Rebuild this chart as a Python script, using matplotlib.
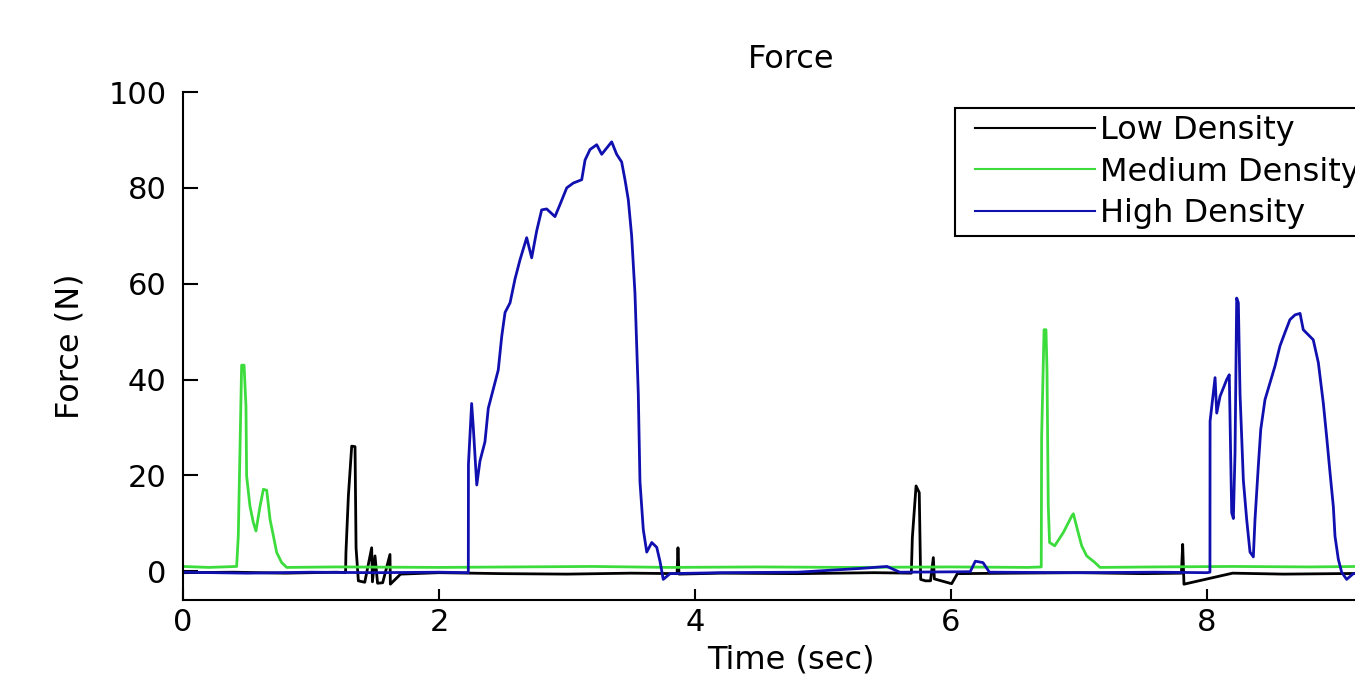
import matplotlib
matplotlib.use("Agg")
import matplotlib.pyplot as plt
from matplotlib.legend_handler import HandlerLine2D
from matplotlib.lines import Line2D

# ---------------- data ----------------
low_t = [0.00, 0.40, 0.80, 1.20, 1.27, 1.273, 1.292, 1.318, 1.344, 1.352, 1.370, 1.42,
         1.474, 1.48, 1.50, 1.52, 1.56, 1.617, 1.62, 1.70, 2.00, 2.50, 3.00, 3.50,
         3.86, 3.867, 3.875, 4.20, 4.80, 5.40, 5.69, 5.698, 5.727, 5.752, 5.763, 5.80,
         5.84, 5.862, 5.87, 6.005, 6.05, 6.50, 7.00, 7.50, 7.80, 7.81, 7.82, 8.20,
         8.60, 9.00, 9.50]
low_f = [-0.3, -0.2, -0.4, -0.2, -0.3, 3.9, 15.7, 26.1, 26.0, 4.9, -2.0, -2.3,
         4.9, -2.2, 3.2, -2.5, -2.4, 3.5, -2.7, -0.6, -0.3, -0.5, -0.6, -0.4,
         -0.5, 4.9, -0.6, -0.4, -0.5, -0.3, -0.4, 7.0, 17.8, 16.4, -1.7, -2.0,
         -2.0, 2.85, -1.6, -2.6, -0.5, -0.4, -0.3, -0.5, -0.4, 5.6, -2.7, -0.4,
         -0.6, -0.5, -0.4]

med_t = [0.00, 0.20, 0.419, 0.432, 0.458, 0.477, 0.492, 0.497, 0.523, 0.549, 0.570,
         0.602, 0.628, 0.654, 0.680, 0.706, 0.732, 0.771, 0.810, 1.20, 2.00, 2.60,
         3.20, 3.80, 4.50, 5.20, 6.00, 6.60, 6.705, 6.708, 6.727, 6.742, 6.750, 6.760,
         6.770, 6.810, 6.878, 6.943, 6.956, 6.987, 7.021, 7.060, 7.125, 7.164, 7.60,
         8.20, 8.80, 9.20, 9.50]
med_f = [1.0, 0.8, 1.0, 7.4, 43.0, 43.0, 34.4, 19.9, 13.6, 10.2, 8.4,
         13.6, 17.1, 16.9, 10.8, 7.4, 3.9, 1.8, 0.8, 0.9, 0.8, 0.9,
         1.0, 0.8, 0.9, 0.8, 0.9, 0.8, 0.9, 28.0, 50.4, 50.4, 42.0, 13.6,
         6.0, 5.3, 8.1, 11.5, 12.0, 8.75, 5.3, 3.2, 1.8, 0.8, 0.9,
         1.0, 0.9, 1.0, 0.9]

high_t = [0.00, 0.50, 1.00, 1.50, 2.00, 2.229, 2.230, 2.255, 2.268, 2.295, 2.320,
          2.359, 2.385, 2.424, 2.463, 2.490, 2.516, 2.555, 2.594, 2.633, 2.685, 2.724,
          2.763, 2.802, 2.841, 2.906, 2.945, 2.998, 3.049, 3.115, 3.141, 3.180, 3.232,
          3.271, 3.310, 3.349, 3.388, 3.427, 3.453, 3.479, 3.505, 3.531, 3.557, 3.570,
          3.596, 3.623, 3.662, 3.701, 3.727, 3.752, 3.805, 4.20, 4.80, 5.30, 5.50,
          5.60, 6.15, 6.19, 6.25, 6.30, 7.00, 7.60, 8.00, 8.023, 8.024, 8.063, 8.076,
          8.102, 8.154, 8.174, 8.185, 8.193, 8.206, 8.219, 8.232, 8.245, 8.258, 8.284,
          8.310, 8.336, 8.362, 8.375, 8.401, 8.420, 8.453, 8.492, 8.531, 8.570, 8.609,
          8.648, 8.688, 8.727, 8.752, 8.830, 8.870, 8.909, 8.935, 8.961, 8.987, 9.000,
          9.026, 9.052, 9.091, 9.143, 9.50]
high_f = [-0.2, -0.4, -0.2, -0.3, -0.2, -0.3, 22.3, 35.0, 30.0, 18.0, 23.0,
          27.0, 34.0, 38.0, 42.0, 49.0, 54.0, 56.0, 61.0, 65.0, 69.6, 65.4,
          71.0, 75.4, 75.6, 74.0, 76.5, 80.0, 81.0, 81.7, 85.8, 88.0, 89.0,
          87.0, 88.3, 89.6, 87.0, 85.4, 81.7, 77.5, 70.0, 58.0, 37.0, 18.7,
          8.7, 4.0, 6.0, 5.0, 2.0, -1.7, -0.5, -0.3, -0.2, 0.6, 1.0,
          -0.2, -0.1, 2.1, 1.8, -0.2, -0.3, -0.2, -0.3, -0.2, 31.3, 40.4, 33.0,
          36.5, 40.0, 41.0, 24.0, 12.2, 11.0, 24.7, 57.0, 56.0, 37.0, 19.0,
          10.8, 4.0, 3.0, 10.8, 22.0, 29.6, 35.8, 39.3, 42.8, 47.0, 49.8,
          52.5, 53.5, 53.8, 50.4, 48.3, 43.5, 35.0, 28.0, 20.6, 13.5, 7.3,
          2.5, -0.2, -1.7, -0.5, -0.3]

labels = ["Low Density", "Medium Density", "High Density"]
x_ticks = [0, 2, 4, 6, 8]
y_ticks = [0, 20, 40, 60, 80, 100]

# ---------------- figure ----------------
plt.rcParams['font.family'] = ['DejaVu Sans']
fig = plt.figure(figsize=(13.55, 6.79), dpi=100)
ax = fig.add_axes([183 / 1355, 1 - 600 / 679, 1216 / 1355, 508 / 679])

ax.plot(low_t, low_f, color='black', lw=2.0, label=labels[0])
ax.plot(med_t, med_f, color='#3ddc3d', lw=2.0, label=labels[1])
ax.plot(high_t, high_f, color='#1010b0', lw=2.0, label=labels[2])

ax.set_xlim(0, 9.5)
ax.set_ylim(-6, 100)
ax.set_xticks(x_ticks)
ax.set_yticks(y_ticks)
ax.tick_params(axis='x', direction='in', length=8, width=1.5, labelsize=22, pad=6)
ax.tick_params(axis='y', direction='in', length=11, width=1.5, labelsize=22, pad=12)
for s in ['top', 'right']:
    ax.spines[s].set_visible(False)
for s in ['left', 'bottom']:
    ax.spines[s].set_linewidth(1.5)

ax.set_title("Force", fontsize=23, pad=17)
ax.set_xlabel("Time (sec)", fontsize=23, labelpad=5)
ax.set_ylabel("Force (N)", fontsize=23, labelpad=16)

leg = ax.legend(loc='upper left', bbox_to_anchor=(955 / 1355, 1 - 108 / 679),
                bbox_transform=fig.transFigure, fontsize=23, frameon=True,
                fancybox=False, framealpha=1, edgecolor='black',
                handlelength=4.17, handletextpad=0.16, borderpad=0.22,
                labelspacing=0.33, borderaxespad=0,
                handler_map={Line2D: HandlerLine2D(xpad=0.41)})
leg.get_frame().set_linewidth(1.5)
for line in leg.get_lines():
    line.set_linewidth(1.5)

fig.savefig("out.png", dpi=100)
